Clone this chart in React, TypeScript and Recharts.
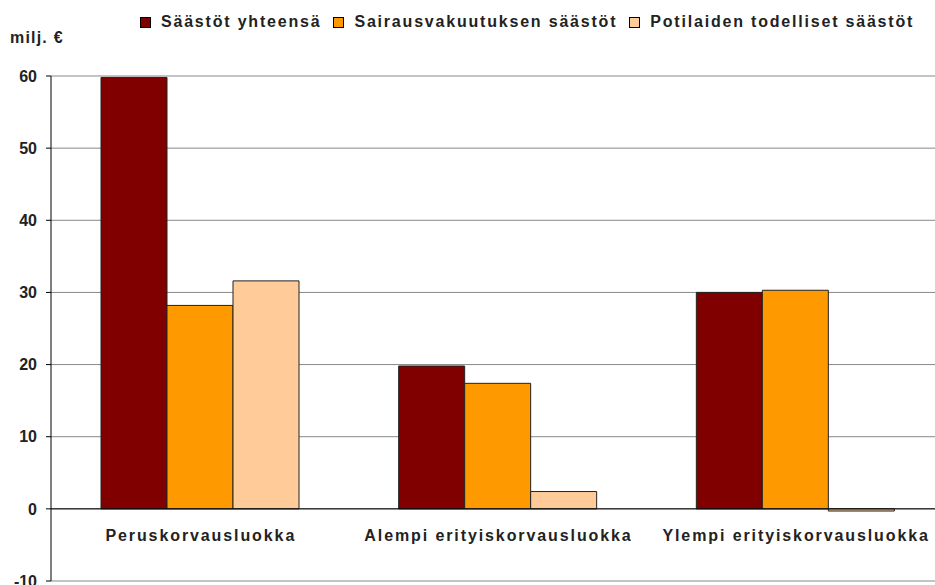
import { Bar, BarChart, CartesianGrid, ReferenceLine, XAxis, YAxis } from 'recharts'

const categories = ['Peruskorvausluokka', 'Alempi erityiskorvausluokka', 'Ylempi erityiskorvausluokka']
const seriesNames = ['Säästöt yhteensä', 'Sairausvakuutuksen säästöt', 'Potilaiden todelliset säästöt']
const seriesColors = ['#800000', '#ff9900', '#ffcc99']
const totalSavings = [59.8, 19.8, 30.0]
const insuranceSavings = [28.2, 17.4, 30.3]
const patientSavings = [31.6, 2.4, -0.3]
const yTicks = [-10, 0, 10, 20, 30, 40, 50, 60]
const unitLabel = 'milj. €'

const data = categories.map((name, i) => ({
  name,
  s0: totalSavings[i],
  s1: insuranceSavings[i],
  s2: patientSavings[i],
}))

const font = '"Liberation Sans", Arial, sans-serif'

function CategoryTick(props: any) {
  const { x, y, payload } = props
  return (
    <text
      x={x + 1}
      y={y - 48}
      textAnchor="middle"
      fontFamily={font}
      fontWeight="bold"
      fontSize={16}
      letterSpacing={1.9}
      fill="#222"
    >
      {payload.value}
    </text>
  )
}

export default function App() {
  return (
    <div
      style={{
        position: 'absolute',
        left: 0,
        top: 0,
        width: 935,
        height: 585,
        overflow: 'hidden',
        background: '#fff',
        fontFamily: font,
      }}
    >
      <div
        style={{
          position: 'absolute',
          left: 10,
          top: 30,
          fontSize: 16,
          lineHeight: '16px',
          fontWeight: 'bold',
          letterSpacing: 1.2,
          color: '#222',
        }}
      >
        {unitLabel}
      </div>
      <div
        style={{
          position: 'absolute',
          left: 140,
          top: 14,
          display: 'flex',
          fontSize: 16,
          lineHeight: '16px',
          fontWeight: 'bold',
          letterSpacing: 1.8,
          color: '#222',
          whiteSpace: 'nowrap',
        }}
      >
        {seriesNames.map((n, i) => (
          <div key={n} style={{ display: 'flex', alignItems: 'center', marginRight: 12 }}>
            <span
              style={{
                display: 'inline-block',
                width: 9,
                height: 9,
                background: seriesColors[i],
                border: '1px solid #000',
                marginRight: 10,
              }}
            />
            {n}
          </div>
        ))}
      </div>
      <BarChart
        width={945}
        height={585}
        data={data}
        margin={{ top: 76, right: 1, left: 0, bottom: 3 }}
        barCategoryGap={50}
        barGap={0}
      >
        <CartesianGrid horizontal vertical={false} stroke="#888" />
        <XAxis
          dataKey="name"
          height={1}
          axisLine={false}
          tickLine={false}
          tick={(p: any) => <CategoryTick {...p} />}
          interval={0}
        />
        <YAxis
          width={51}
          domain={[-10, 60]}
          ticks={yTicks}
          interval={0}
          axisLine={{ stroke: '#000' }}
          tickLine={{ stroke: '#000' }}
          tickSize={5}
          tickMargin={9}
          tick={{ fontFamily: font, fontWeight: 'bold', fontSize: 16, fill: '#222' }}
        />
        <ReferenceLine y={0} stroke="#000" />
        <Bar dataKey="s0" name={seriesNames[0]} fill={seriesColors[0]} stroke="#222" isAnimationActive={false} />
        <Bar dataKey="s1" name={seriesNames[1]} fill={seriesColors[1]} stroke="#222" isAnimationActive={false} />
        <Bar dataKey="s2" name={seriesNames[2]} fill={seriesColors[2]} stroke="#222" isAnimationActive={false} />
      </BarChart>
    </div>
  )
}
